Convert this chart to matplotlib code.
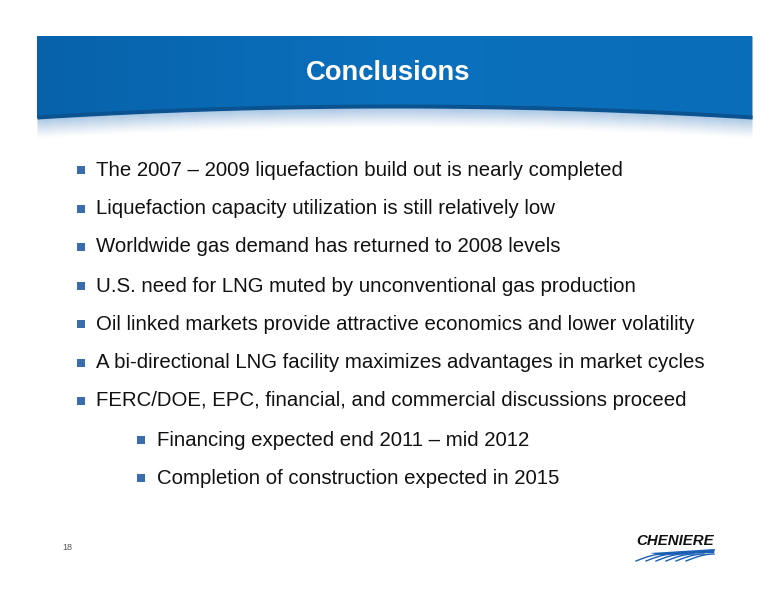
import numpy as np
import matplotlib
matplotlib.use("Agg")
import matplotlib.pyplot as plt
from matplotlib.patches import Polygon, Rectangle

title = "Conclusions"
bullets = [
    "The 2007 \u2013 2009 liquefaction build out is nearly completed",
    "Liquefaction capacity utilization is still relatively low",
    "Worldwide gas demand has returned to 2008 levels",
    "U.S. need for LNG muted by unconventional gas production",
    "Oil linked markets provide attractive economics and lower volatility",
    "A bi-directional LNG facility maximizes advantages in market cycles",
    "FERC/DOE, EPC, financial, and commercial discussions proceed",
]
sub_bullets = [
    "Financing expected end 2011 \u2013 mid 2012",
    "Completion of construction expected in 2015",
]
page = "18"

plt.rcParams['font.family'] = ['Liberation Sans', 'DejaVu Sans']
fig = plt.figure(figsize=(7.76, 6), dpi=100)
ax = fig.add_axes([0, 0, 1, 1])
ax.set_xlim(0, 776); ax.set_ylim(600, 0); ax.axis('off')

# banner
x0, x1 = 37, 752
xs = np.linspace(x0, x1, 200)
t = (xs - (x0 + x1) / 2) / ((x1 - x0) / 2)
bottom = 107 + 11 * t**2
for i in range(20):
    a = 0.55 * (1 - i / 20) ** 1.3
    ax.fill_between(xs, bottom + i, bottom + i + 1.2, color='#6f9fd0', alpha=a, lw=0)
ax.fill_between(xs, 36, bottom, color='#0a6cb8', lw=0)
grad = np.linspace(0, 1, 256)[None, :]
im = ax.imshow(grad, extent=(x0, x1, bottom.max(), 36), cmap=matplotlib.colors.LinearSegmentedColormap.from_list('g', ['#0762aa', '#0b70bd', '#0a6db9']), aspect='auto', zorder=1)
poly = Polygon(np.column_stack([np.r_[xs, xs[::-1]], np.r_[np.full_like(xs, 36), bottom[::-1]]]), closed=True, transform=ax.transData)
im.set_clip_path(poly)
ax.fill_between(xs, bottom - 3, bottom + 1, color='#0a5390', lw=0, zorder=2)
ax.text(388, 73, title, color='white', fontsize=19.7, fontweight='bold', ha='center', va='center', zorder=3)

bc = '#3a6cb0'
ys = [170, 209, 247, 286, 324, 363, 401]
for y, s in zip(ys, bullets):
    ax.add_patch(Rectangle((77, y - 4), 8, 8, color=bc, lw=0))
    ax.text(96, y, s, fontsize=14.65, va='center', ha='left', color='#111111')
for y, s in zip([440, 478], sub_bullets):
    ax.add_patch(Rectangle((137, y - 4), 8, 8, color=bc, lw=0))
    ax.text(157, y, s, fontsize=14.65, va='center', ha='left', color='#111111')

ax.text(62, 548, page, fontsize=6.5, color='#555555', va='center')

# logo
ax.text(675, 541, "CHENIERE", fontsize=10.8, fontweight='bold', style='italic', ha='center', va='center', color='#111111')
ax.add_patch(Polygon([[650, 553], [715, 549], [714, 553], [660, 555]], color='#1a5fb4', lw=0))
for k in range(6):
    xs0 = 636 + k * 10
    xx = np.linspace(xs0, xs0 + 28, 20)
    u = (xx - xs0) / 28
    yy = 561 - 7 * np.sin(u * np.pi / 2)
    ax.plot(xx, yy, color='#1a5fb4', lw=1.0)

fig.savefig("out.png", dpi=100, facecolor='white')
